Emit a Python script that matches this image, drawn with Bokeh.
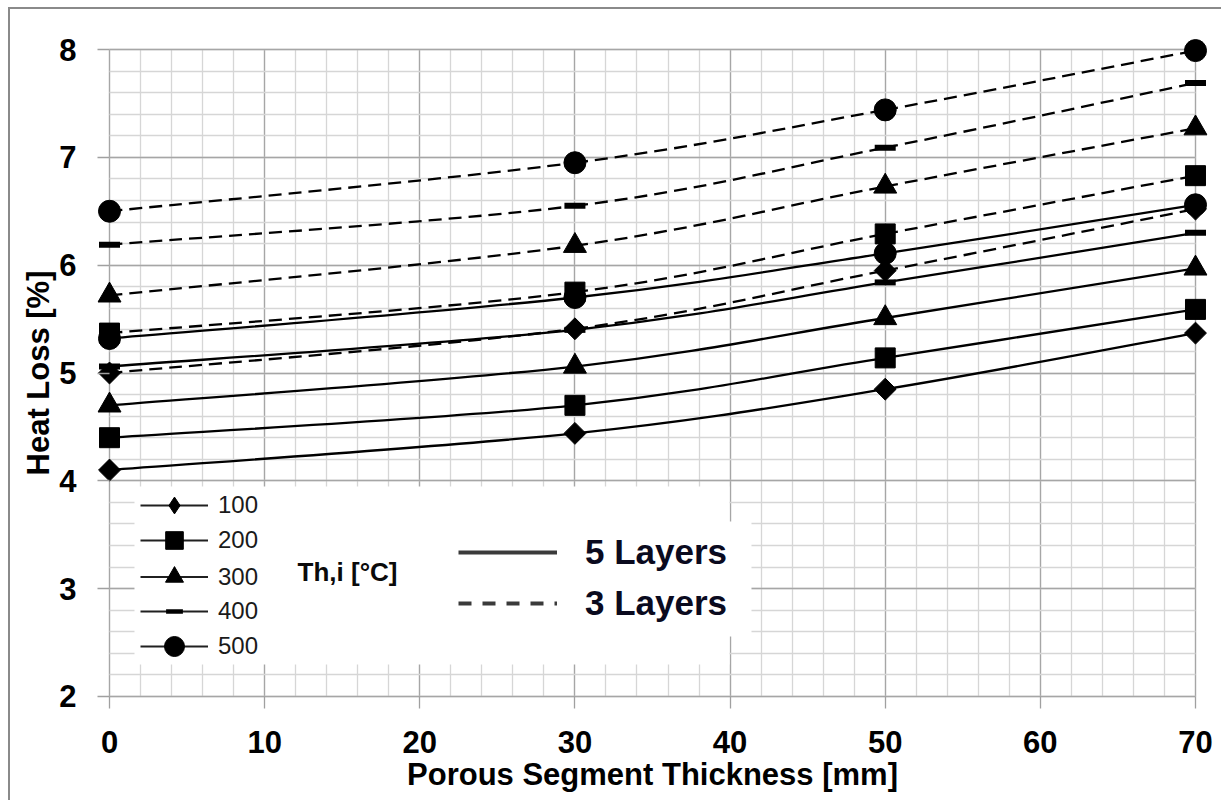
import numpy as np
from bokeh.plotting import figure
from bokeh.models import (ColumnDataSource, Range1d, SingleIntervalTicker, Legend,
                          LegendItem, Label, BoxAnnotation)
from bokeh.embed import file_html
from bokeh.resources import INLINE

# ---------------- data ----------------
thickness = [0, 30, 50, 70]
temps = ["100", "200", "300", "400", "500"]

five_100 = [4.10, 4.44, 4.85, 5.37]
five_200 = [4.40, 4.70, 5.14, 5.59]
five_300 = [4.70, 5.06, 5.51, 5.97]
five_400 = [5.06, 5.40, 5.84, 6.30]
five_500 = [5.32, 5.70, 6.11, 6.56]

three_100 = [5.00, 5.41, 5.95, 6.52]
three_200 = [5.37, 5.75, 6.29, 6.83]
three_300 = [5.72, 6.18, 6.73, 7.27]
three_400 = [6.19, 6.55, 7.09, 7.69]
three_500 = [6.50, 6.95, 7.44, 7.99]

five_layers = [five_100, five_200, five_300, five_400, five_500]
three_layers = [three_100, three_200, three_300, three_400, three_500]

x_ticks_interval = 10
y_ticks_interval = 1

# ---------------- styles ----------------
FONT = "Liberation Sans"
marker_styles = [
    dict(marker="square", size=15.5, angle=np.pi / 4, legend_marker="diamond"),
    dict(marker="square", size=20, angle=0.0, legend_marker="square"),
    dict(marker="triangle", size=23, angle=0.0, legend_marker="triangle"),
    dict(marker="dash", size=21, angle=0.0, legend_marker="dash"),
    dict(marker="circle", size=22, angle=0.0, legend_marker="circle"),
]
# legend row layout (screen px, frame-relative)
legend_glyph_h = [42, 44, 45, 42, 50]
legend_loc_y = [182, 146, 109, 76, 37]


def smooth_source(xs, ys):
    """Excel-like smoothed line: cubic Bezier segments with Catmull-Rom control points."""
    n = len(xs)
    px = [xs[0]] + list(xs) + [xs[-1]]
    py = [ys[0]] + list(ys) + [ys[-1]]
    d = dict(x0=[], y0=[], x1=[], y1=[], cx0=[], cy0=[], cx1=[], cy1=[])
    for i in range(n - 1):
        j = i + 1
        d["x0"].append(px[j]); d["y0"].append(py[j])
        d["x1"].append(px[j + 1]); d["y1"].append(py[j + 1])
        d["cx0"].append(px[j] + (px[j + 1] - px[j - 1]) / 6.0)
        d["cy0"].append(py[j] + (py[j + 1] - py[j - 1]) / 6.0)
        d["cx1"].append(px[j + 1] - (px[j + 2] - px[j]) / 6.0)
        d["cy1"].append(py[j + 1] - (py[j + 2] - py[j]) / 6.0)
    return ColumnDataSource(d)


p = figure(width=1221, height=800, output_backend="svg", toolbar_location=None,
           x_range=Range1d(-0.7735, 70.7735), y_range=Range1d(1.8887, 8.1113),
           min_border_left=97, min_border_right=14, min_border_top=37, min_border_bottom=92,
           background_fill_color="white", border_fill_color="white", border_fill_alpha=0)
p.outline_line_color = None
p.styles = {"box-shadow": "inset 8px 7px 0 0 white, inset 10px 9px 0 0 #8a8a8a",
            "background-color": "white"}

# axes
p.xaxis.ticker = SingleIntervalTicker(interval=x_ticks_interval, num_minor_ticks=5)
p.yaxis.ticker = SingleIntervalTicker(interval=y_ticks_interval, num_minor_ticks=5)
for ax in (p.xaxis[0], p.yaxis[0]):
    ax.axis_line_color = None
    ax.major_tick_in = 12
    ax.major_tick_out = 0
    ax.minor_tick_in = 0
    ax.minor_tick_out = 0
    ax.major_tick_line_color = "#a0a0a0"
    ax.major_tick_line_width = 1.3
    ax.major_label_text_font = FONT
    ax.major_label_text_font_style = "bold"
    ax.major_label_text_font_size = "31px"
    ax.major_label_text_color = "black"
    ax.axis_label_text_font = FONT
    ax.axis_label_text_font_style = "bold"
    ax.axis_label_text_font_size = "31px"
    ax.axis_label_text_color = "black"
p.xaxis.axis_label = "Porous Segment Thickness [mm]"
p.yaxis.axis_label = "Heat Loss [%]"
p.xaxis.major_label_standoff = 22
p.xaxis.axis_label_standoff = 1
p.yaxis.major_label_standoff = 21
p.yaxis.axis_label_standoff = 0

# grid
p.xgrid.cross_bounds = (2, 8)
p.ygrid.cross_bounds = (0, 70)
for g in (p.xgrid[0], p.ygrid[0]):
    g.grid_line_color = "#a6a6a6"
    g.grid_line_width = 1.3
    g.minor_grid_line_color = "#d6d6d6"
    g.minor_grid_line_width = 1.3

# series
legend_renderers = []
for k, t in enumerate(temps):
    ms = marker_styles[k]
    for ys, dash in ((three_layers[k], "13 7"), (five_layers[k], "solid")):
        src = smooth_source(thickness, ys)
        p.bezier(x0="x0", y0="y0", x1="x1", y1="y1", cx0="cx0", cy0="cy0",
                 cx1="cx1", cy1="cy1", source=src, line_color="black",
                 line_width=2.3, line_dash=dash)
    for ys in (three_layers[k], five_layers[k]):
        if ms["marker"] == "dash":
            p.scatter(thickness, ys, marker="dash", size=ms["size"], line_color="black",
                      line_width=6)
        else:
            p.scatter(thickness, ys, marker=ms["marker"], size=ms["size"],
                      angle=ms["angle"], fill_color="black", line_color="black")
    # legend helpers (hidden)
    lr = p.line(thickness, five_layers[k], line_color="#202020", line_width=2.2, visible=False)
    if ms["legend_marker"] == "dash":
        sr = p.scatter(thickness, five_layers[k], marker="dash", size=ms["size"],
                       line_color="black", line_width=4.5, visible=False)
    else:
        sr = p.scatter(thickness, five_layers[k], marker=ms["legend_marker"], size=ms["size"],
                       fill_color="black", line_color="black", visible=False)
    legend_renderers.append((t, lr, sr))

solid_r = p.line(thickness, five_100, line_color="#3a3a3a", line_width=4, visible=False)
dash_r = p.line(thickness, three_100, line_color="#3a3a3a", line_width=4,
                line_dash="13 11", visible=False)

# legend background (white panel over the grid)
p.add_layout(BoxAnnotation(left=1.61, right=39.96, top=3.947, bottom=2.297,
                           fill_color="white", fill_alpha=1, line_color=None))
p.add_layout(BoxAnnotation(left=39.9, right=41.38, top=3.623, bottom=2.556,
                           fill_color="white", fill_alpha=1, line_color=None))

for k, (t, lr, sr) in enumerate(legend_renderers):
    leg = Legend(items=[LegendItem(label=t, renderers=[lr, sr])],
                 location=(43, legend_loc_y[k]), orientation="vertical",
                 glyph_width=68, glyph_height=legend_glyph_h[k], spacing=0,
                 label_standoff=10, padding=0, margin=0, border_line_color=None,
                 background_fill_alpha=0, label_text_font=FONT,
                 label_text_font_size="24px", label_text_color="#1a1a1a")
    p.add_layout(leg, "center")

leg2 = Legend(items=[LegendItem(label="5 Layers", renderers=[solid_r]),
                     LegendItem(label="3 Layers", renderers=[dash_r])],
              location=(361, 85), orientation="vertical",
              glyph_width=99, glyph_height=40, spacing=11, label_standoff=28,
              padding=0, margin=0, border_line_color=None, background_fill_alpha=0,
              label_text_font=FONT, label_text_font_size="35px",
              label_text_font_style="bold", label_text_color="#0a0a1e")
p.add_layout(leg2, "center")

p.add_layout(Label(x=12.12, y=3.15, text="Th,i [°C]", text_font=FONT,
                   text_font_size="26px", text_font_style="bold",
                   text_baseline="middle", text_align="left", text_color="#0a0a0a"))

open("out.html", "w").write(file_html(p, INLINE))
